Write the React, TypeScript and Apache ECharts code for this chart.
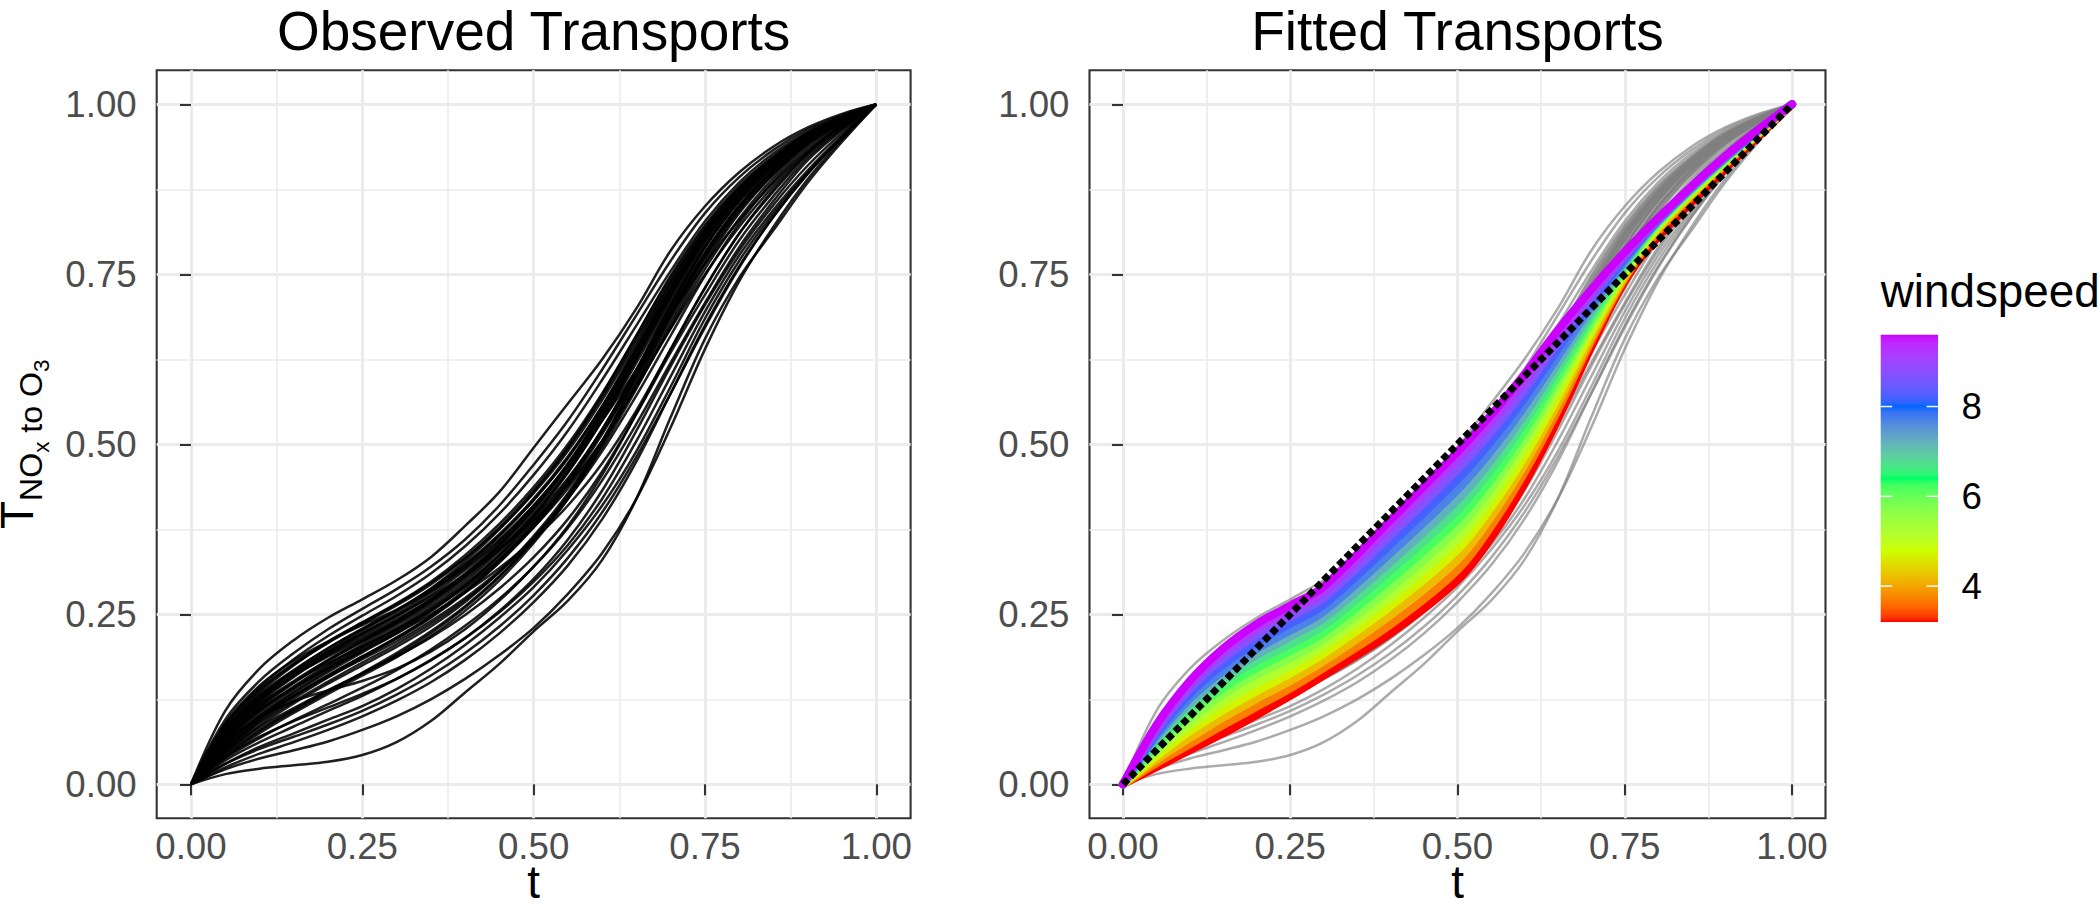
import React, { useEffect, useRef } from 'react';
import * as echarts from 'echarts';

// ---------------- data ----------------
const T_OBS = [0, 0.05, 0.1, 0.15, 0.2, 0.25, 0.3, 0.35, 0.4, 0.45, 0.5, 0.55, 0.6, 0.65, 0.7, 0.75, 0.8, 0.85, 0.9, 0.95, 1];

const OBSERVED: number[][] = [
  [0, .108, .17, .212, .245, .272, .3, .334, .38, .43, .495, .56, .625, .70, .785, .85, .90, .938, .966, .986, 1],
  [0, .095, .152, .193, .228, .258, .287, .32, .36, .41, .47, .535, .61, .69, .77, .84, .893, .933, .963, .984, 1],
  [0, .088, .143, .184, .218, .248, .277, .31, .35, .398, .455, .52, .595, .675, .755, .828, .885, .928, .96, .982, 1],
  [0, .09, .145, .182, .21, .234, .257, .284, .318, .36, .41, .468, .535, .61, .69, .765, .83, .885, .932, .97, 1],
  [0, .082, .135, .175, .209, .238, .266, .298, .337, .383, .437, .5, .575, .66, .745, .82, .878, .922, .957, .981, 1],
  [0, .076, .128, .167, .2, .229, .256, .287, .324, .368, .42, .482, .556, .64, .728, .808, .87, .917, .953, .979, 1],
  [0, .07, .12, .158, .191, .22, .247, .278, .315, .358, .41, .47, .545, .632, .722, .803, .866, .914, .951, .978, 1],
  [0, .064, .112, .149, .181, .21, .237, .268, .305, .35, .403, .465, .54, .628, .718, .8, .864, .913, .95, .977, 1],
  [0, .058, .104, .14, .171, .2, .227, .258, .294, .337, .388, .448, .522, .608, .698, .783, .852, .905, .946, .975, 1],
  [0, .052, .095, .13, .16, .188, .215, .246, .283, .327, .38, .443, .52, .61, .705, .79, .858, .909, .948, .976, 1],
  [0, .046, .086, .119, .148, .175, .202, .232, .268, .312, .365, .428, .505, .595, .69, .778, .85, .904, .945, .975, 1],
  [0, .04, .075, .105, .133, .16, .187, .218, .255, .3, .355, .42, .5, .59, .688, .777, .849, .903, .945, .975, 1],
  [0, .08, .13, .165, .195, .222, .248, .276, .308, .345, .388, .44, .505, .585, .672, .758, .832, .892, .94, .973, 1],
  [0, .074, .124, .16, .19, .217, .243, .272, .306, .346, .393, .45, .522, .61, .705, .79, .858, .91, .95, .978, 1],
  [0, .068, .116, .152, .183, .212, .24, .272, .31, .355, .408, .472, .55, .638, .728, .808, .87, .918, .954, .98, 1],
  [0, .062, .108, .144, .176, .206, .234, .265, .302, .346, .398, .46, .535, .62, .71, .792, .858, .909, .948, .976, 1],
  [0, .056, .1, .136, .168, .197, .225, .256, .292, .334, .384, .444, .518, .603, .695, .78, .85, .903, .945, .975, 1],
  [0, .05, .09, .122, .151, .179, .206, .236, .271, .312, .362, .424, .5, .588, .682, .77, .843, .898, .942, .974, 1],
  [0, .066, .11, .142, .17, .196, .222, .25, .282, .318, .36, .41, .472, .55, .64, .73, .81, .875, .928, .968, 1],
  [0, .06, .1, .13, .158, .184, .21, .24, .274, .314, .362, .42, .49, .572, .66, .748, .825, .887, .936, .971, 1],
  [0, .035, .062, .085, .108, .13, .155, .183, .215, .253, .298, .352, .42, .505, .6, .695, .778, .845, .903, .954, 1],
  [0, .03, .055, .075, .095, .115, .14, .17, .205, .245, .29, .345, .41, .49, .585, .685, .77, .84, .9, .952, 1],
  [0, .022, .038, .05, .063, .08, .1, .125, .155, .19, .23, .28, .34, .42, .525, .64, .74, .82, .89, .948, 1],
  [0, .015, .023, .028, .033, .043, .062, .093, .135, .177, .225, .27, .33, .42, .54, .655, .745, .815, .885, .945, 1],
  [0, .045, .08, .11, .138, .163, .19, .222, .26, .305, .36, .425, .505, .6, .7, .79, .86, .91, .95, .977, 1],
  [0, .085, .138, .176, .208, .236, .263, .294, .332, .378, .432, .495, .57, .655, .74, .815, .874, .92, .956, .98, 1],
  [0, .072, .118, .15, .178, .203, .228, .256, .29, .33, .378, .435, .505, .585, .67, .75, .82, .88, .93, .968, 1],
  [0, .078, .126, .16, .188, .214, .24, .27, .307, .352, .405, .47, .55, .64, .73, .808, .868, .915, .952, .978, 1],
  [0, .054, .096, .13, .16, .188, .216, .248, .286, .33, .382, .444, .52, .605, .695, .78, .85, .904, .946, .975, 1],
  [0, .042, .078, .108, .136, .164, .193, .225, .262, .306, .358, .42, .495, .582, .676, .765, .84, .897, .942, .974, 1],
  [0, .038, .068, .094, .118, .142, .168, .198, .233, .273, .32, .377, .447, .53, .62, .708, .79, .858, .918, .962, 1],
  [0, .048, .084, .112, .138, .163, .188, .216, .249, .288, .334, .39, .46, .545, .635, .72, .8, .865, .922, .964, 1],
  [0, .03, .052, .07, .088, .108, .132, .16, .193, .232, .278, .333, .4, .482, .575, .672, .76, .835, .898, .951, 1],
  [0, .04, .07, .093, .113, .133, .155, .182, .215, .255, .302, .36, .432, .52, .615, .705, .785, .852, .91, .958, 1],
  [0, .06, .098, .122, .138, .152, .17, .195, .228, .27, .32, .38, .455, .545, .64, .73, .81, .872, .926, .966, 1],
  [0, .072, .122, .16, .193, .222, .25, .282, .32, .365, .418, .48, .555, .64, .73, .81, .872, .92, .955, .98, 1],
  [0, .066, .114, .15, .182, .21, .238, .27, .308, .352, .405, .468, .545, .632, .722, .802, .866, .915, .952, .978, 1],
  [0, .088, .14, .178, .21, .238, .265, .296, .333, .376, .428, .49, .565, .65, .738, .815, .875, .92, .955, .98, 1],
  [0, .058, .1, .134, .165, .194, .222, .254, .292, .338, .393, .458, .536, .625, .715, .797, .862, .912, .95, .977, 1],
  [0, .05, .092, .126, .157, .186, .214, .245, .282, .326, .378, .44, .515, .6, .69, .775, .846, .9, .943, .974, 1],
  [0, .076, .126, .163, .196, .226, .254, .285, .322, .366, .418, .48, .556, .645, .735, .812, .871, .917, .953, .979, 1],
  [0, .063, .108, .142, .173, .202, .23, .261, .298, .343, .396, .46, .538, .628, .72, .8, .864, .913, .951, .978, 1],
  [0, .025, .045, .062, .08, .1, .123, .15, .183, .222, .268, .322, .39, .475, .575, .675, .762, .835, .898, .951, 1],
  [0, .082, .132, .168, .2, .228, .256, .288, .328, .375, .43, .495, .573, .66, .748, .822, .88, .924, .958, .981, 1],
];

const T_FIT = [0, 0.05, 0.1, 0.15, 0.2, 0.25, 0.3, 0.4, 0.5, 0.55, 0.6, 0.65, 0.7, 0.75, 0.8, 0.9, 1];
const WINDSPEEDS = [3.2, 3.7, 4.2, 4.7, 5.2, 5.7, 6.2, 6.7, 7.2, 7.7, 8.2, 8.7, 9.2, 9.6];
const FITTED: number[][] = [
  [0, .025, .05, .075, .102, .13, .16, .222, .30, .362, .442, .537, .643, .74, .805, .905, 1],
  [0, .031, .059, .087, .114, .141, .171, .235, .315, .379, .458, .550, .652, .744, .813, .911, 1],
  [0, .036, .068, .098, .126, .152, .181, .249, .330, .393, .470, .560, .658, .747, .817, .913, 1],
  [0, .041, .078, .109, .137, .163, .192, .262, .345, .407, .482, .570, .665, .751, .820, .915, 1],
  [0, .047, .087, .121, .149, .174, .203, .275, .360, .421, .495, .581, .672, .754, .822, .916, 1],
  [0, .052, .096, .132, .161, .185, .213, .288, .375, .435, .507, .591, .678, .758, .824, .918, 1],
  [0, .057, .104, .142, .171, .196, .223, .301, .389, .448, .519, .600, .684, .761, .826, .919, 1],
  [0, .062, .112, .151, .181, .206, .233, .314, .403, .462, .531, .609, .690, .764, .827, .920, 1],
  [0, .067, .119, .159, .190, .217, .244, .327, .418, .476, .543, .619, .696, .767, .828, .921, 1],
  [0, .071, .126, .167, .199, .226, .254, .340, .433, .490, .556, .629, .703, .770, .829, .921, 1],
  [0, .075, .133, .176, .209, .236, .264, .353, .448, .504, .568, .640, .709, .773, .830, .922, 1],
  [0, .079, .140, .185, .219, .246, .274, .366, .463, .518, .580, .650, .716, .777, .831, .923, 1],
  [0, .084, .147, .194, .229, .256, .283, .379, .478, .532, .593, .660, .723, .780, .832, .923, 1],
  [0, .087, .152, .200, .236, .263, .291, .389, .489, .543, .603, .668, .728, .783, .833, .924, 1],
];

const DIAGONAL = [[0, 0], [1, 1]];
const AXIS_TICKS = [0, 0.25, 0.5, 0.75, 1];
const MINOR_TICKS = [0.125, 0.375, 0.625, 0.875];
const LEGEND_TICKS = [4, 6, 8];
const WS_MIN = 3.2;
const WS_MAX = 9.6;
const RAINBOW5 = ['#FF0000', '#CCFF00', '#00FF66', '#0066FF', '#CC00FF'];

// ---------------- colour helpers (CIELAB interpolation like ggplot) ----------------
function hexToRgb(h: string) {
  return [parseInt(h.slice(1, 3), 16), parseInt(h.slice(3, 5), 16), parseInt(h.slice(5, 7), 16)];
}
function toLin(c: number) { c /= 255; return c <= 0.04045 ? c / 12.92 : Math.pow((c + 0.055) / 1.055, 2.4); }
function fromLin(c: number) {
  const v = c <= 0.0031308 ? 12.92 * c : 1.055 * Math.pow(Math.max(c, 0), 1 / 2.4) - 0.055;
  return Math.round(Math.max(0, Math.min(1, v)) * 255);
}
function rgbToLab(rgb: number[]) {
  const R = toLin(rgb[0]), G = toLin(rgb[1]), B = toLin(rgb[2]);
  const X = (0.4124564 * R + 0.3575761 * G + 0.1804375 * B) / 0.95047;
  const Y = 0.2126729 * R + 0.7151522 * G + 0.072175 * B;
  const Z = (0.0193339 * R + 0.119192 * G + 0.9503041 * B) / 1.08883;
  const f = (t: number) => (t > 216 / 24389 ? Math.cbrt(t) : (24389 / 27 * t + 16) / 116);
  const fx = f(X), fy = f(Y), fz = f(Z);
  return [116 * fy - 16, 500 * (fx - fy), 200 * (fy - fz)];
}
function labToHex(lab: number[]) {
  const fy = (lab[0] + 16) / 116, fx = fy + lab[1] / 500, fz = fy - lab[2] / 200;
  const inv = (t: number) => (t * t * t > 216 / 24389 ? t * t * t : (116 * t - 16) / (24389 / 27));
  const X = inv(fx) * 0.95047, Y = inv(fy), Z = inv(fz) * 1.08883;
  const R = 3.2404542 * X - 1.5371385 * Y - 0.4985314 * Z;
  const G = -0.969266 * X + 1.8760108 * Y + 0.041556 * Z;
  const B = 0.0556434 * X - 0.2040259 * Y + 1.0572252 * Z;
  const h = (n: number) => n.toString(16).padStart(2, '0');
  return '#' + h(fromLin(R)) + h(fromLin(G)) + h(fromLin(B));
}
const LABS = RAINBOW5.map((c) => rgbToLab(hexToRgb(c)));
function colorAt(w: number) {
  const f = Math.max(0, Math.min(1, (w - WS_MIN) / (WS_MAX - WS_MIN)));
  const seg = Math.min(LABS.length - 2, Math.floor(f * (LABS.length - 1)));
  const u = f * (LABS.length - 1) - seg;
  const a = LABS[seg], b = LABS[seg + 1];
  return labToHex([a[0] + (b[0] - a[0]) * u, a[1] + (b[1] - a[1]) * u, a[2] + (b[2] - a[2]) * u]);
}

// ---------------- layout ----------------
const FONT = '"Liberation Sans", Arial, Helvetica, sans-serif';
const BASE = 45.83;
const GRID_TOP = 70.3;
const GRID_H = 748;
const GRIDS = [
  { left: 156.7, width: 753.9 },
  { left: 1089.5, width: 736 },
];
const LEG = { x: 1880.7, top: 334.7, w: 57.3, h: 287.3 };

function measure(str: string, size: number) {
  const ctx = document.createElement('canvas').getContext('2d');
  if (!ctx) return str.length * size * 0.55;
  ctx.font = `${size}px "Liberation Sans"`;
  return ctx.measureText(str).width;
}

export default function App() {
  const ref = useRef<HTMLDivElement>(null);

  useEffect(() => {
    if (!ref.current) return;
    const chart = echarts.init(ref.current, null, { renderer: 'svg' });

    const xAxes: any[] = [];
    const yAxes: any[] = [];
    GRIDS.forEach((_, gi) => {
      xAxes.push({
        type: 'value', gridIndex: gi, min: -0.05, max: 1.05, position: 'bottom',
        axisLine: { show: false },
        axisTick: { show: true, length: 11, lineStyle: { color: '#333333', width: 2.1 }, customValues: AXIS_TICKS },
        axisLabel: {
          show: true, customValues: AXIS_TICKS, formatter: (v: number) => v.toFixed(2),
          color: '#4D4D4D', fontSize: BASE * 0.8, fontFamily: FONT, margin: 13.5, lineHeight: 30,
        },
        splitLine: { show: true, lineStyle: { color: '#EBEBEB', width: 3 }, customValues: AXIS_TICKS },
      });
      xAxes.push({
        type: 'value', gridIndex: gi, min: -0.05, max: 1.05, position: 'top',
        axisLine: { show: false },
        axisTick: { show: false, customValues: MINOR_TICKS },
        axisLabel: { show: false, customValues: MINOR_TICKS },
        splitLine: { show: true, lineStyle: { color: '#EBEBEB', width: 1.6 }, customValues: MINOR_TICKS },
      });
      yAxes.push({
        type: 'value', gridIndex: gi, min: -0.05, max: 1.05, position: 'left',
        axisLine: { show: false },
        axisTick: { show: true, length: 11, lineStyle: { color: '#333333', width: 2.1 }, customValues: AXIS_TICKS },
        axisLabel: {
          show: true, customValues: AXIS_TICKS, formatter: (v: number) => v.toFixed(2),
          color: '#4D4D4D', fontSize: BASE * 0.8, fontFamily: FONT, margin: 20,
        },
        splitLine: { show: true, lineStyle: { color: '#EBEBEB', width: 3 }, customValues: AXIS_TICKS },
      });
      yAxes.push({
        type: 'value', gridIndex: gi, min: -0.05, max: 1.05, position: 'right',
        axisLine: { show: false },
        axisTick: { show: false, customValues: MINOR_TICKS },
        axisLabel: { show: false, customValues: MINOR_TICKS },
        splitLine: { show: true, lineStyle: { color: '#EBEBEB', width: 1.6 }, customValues: MINOR_TICKS },
      });
    });

    const line = (data: number[][], xi: number, color: string, width: number, extra: any = {}) => ({
      type: 'line', xAxisIndex: xi, yAxisIndex: xi, data, showSymbol: false, symbol: 'none',
      smooth: 0.35, silent: true, lineStyle: { color, width, cap: 'butt', join: 'round' },
      emphasis: { disabled: true }, ...extra,
    });

    const series: any[] = [];
    OBSERVED.forEach((c) => series.push(line(c.map((v, i) => [T_OBS[i], v]), 0, 'rgba(0,0,0,0.88)', 2.5)));
    OBSERVED.forEach((c) => series.push(line(c.map((v, i) => [T_OBS[i], v]), 2, 'rgba(128,128,128,0.66)', 2.5)));
    FITTED.forEach((c, k) =>
      series.push(line(c.map((v, i) => [T_FIT[i], v]), 2, colorAt(WINDSPEEDS[k]), 8, { lineStyle: { color: colorAt(WINDSPEEDS[k]), width: 8, cap: 'round', join: 'round' } })),
    );
    series.push(line(DIAGONAL, 2, '#000000', 7, { smooth: false, lineStyle: { color: '#000000', width: 7, type: [7, 3.6], cap: 'butt' } }));

    // ---- graphics: titles, axis titles, legend ----
    const graphic: any[] = [];
    const centers = GRIDS.map((g) => g.left + g.width / 2);
    const titles = ['Observed Transports', 'Fitted Transports'];
    centers.forEach((cx, i) => {
      graphic.push({
        type: 'text', x: cx, y: 31, silent: true,
        style: { text: titles[i], fontSize: BASE * 1.2, fontFamily: FONT, fill: '#000', align: 'center', verticalAlign: 'middle' },
      });
      graphic.push({
        type: 'text', x: cx, y: 882, silent: true,
        style: { text: 't', fontSize: BASE, fontFamily: FONT, fill: '#000', align: 'center', verticalAlign: 'middle', lineHeight: 34 },
      });
    });

    // y axis title  T_{NO_x to O_3}
    const s1 = BASE * 0.7, s2 = BASE * 0.49;
    const pieces = [
      { text: 'T', size: BASE, base: 33 },
      { text: 'NO', size: s1, base: 42 },
      { text: 'x', size: s2, base: 49 },
      { text: ' to O', size: s1, base: 42 },
      { text: '3', size: s2, base: 49 },
    ];
    const widths = pieces.map((p) => measure(p.text, p.size));
    const total = widths.reduce((a, b) => a + b, 0);
    let y0 = GRID_TOP + GRID_H / 2 + total / 2;
    pieces.forEach((p, i) => {
      graphic.push({
        type: 'text', x: p.base - 0.3465 * p.size, y: y0, rotation: Math.PI / 2, silent: true,
        style: {
          text: p.text, fontSize: p.size, fontFamily: FONT, fill: '#000', align: 'left', verticalAlign: 'middle',
          lineHeight: Math.round(p.size * 0.72),
        },
      });
      y0 -= widths[i];
    });

    // legend
    const legY = (w: number) => LEG.top + LEG.h - ((w - WS_MIN) / (WS_MAX - WS_MIN)) * LEG.h;
    const stops: any[] = [];
    for (let k = 0; k <= 64; k++) {
      const w = WS_MIN + (k / 64) * (WS_MAX - WS_MIN);
      stops.push({ offset: k / 64, color: colorAt(w) });
    }
    graphic.push({
      type: 'text', x: LEG.x, y: 291, silent: true,
      style: { text: 'windspeed', fontSize: BASE, fontFamily: FONT, fill: '#000', align: 'left', verticalAlign: 'middle' },
    });
    graphic.push({
      type: 'rect', silent: true, shape: { x: LEG.x, y: LEG.top, width: LEG.w, height: LEG.h },
      style: { fill: { type: 'linear', x: 0, y: 1, x2: 0, y2: 0, colorStops: stops } },
    });
    LEGEND_TICKS.forEach((w) => {
      const y = legY(w);
      const tl = LEG.w / 5;
      graphic.push({ type: 'line', silent: true, shape: { x1: LEG.x, y1: y, x2: LEG.x + tl, y2: y }, style: { stroke: '#FFFFFF', lineWidth: 1.5 } });
      graphic.push({ type: 'line', silent: true, shape: { x1: LEG.x + LEG.w - tl, y1: y, x2: LEG.x + LEG.w, y2: y }, style: { stroke: '#FFFFFF', lineWidth: 1.5 } });
      graphic.push({
        type: 'text', x: LEG.x + LEG.w + 23.5, y, silent: true,
        style: { text: String(w), fontSize: BASE * 0.8, fontFamily: FONT, fill: '#000', align: 'left', verticalAlign: 'middle' },
      });
    });

    chart.setOption({
      animation: false,
      backgroundColor: '#FFFFFF',
      grid: GRIDS.map((g) => ({
        left: g.left, top: GRID_TOP, width: g.width, height: GRID_H,
        show: true, borderColor: '#333333', borderWidth: 2.1, backgroundColor: 'transparent',
        containLabel: false, outerBoundsMode: 'none',
      })),
      xAxis: xAxes,
      yAxis: yAxes,
      series,
      graphic,
    });

    return () => chart.dispose();
  }, []);

  return <div ref={ref} style={{ position: 'absolute', left: 0, top: 0, width: 2100, height: 914 }} />;
}
